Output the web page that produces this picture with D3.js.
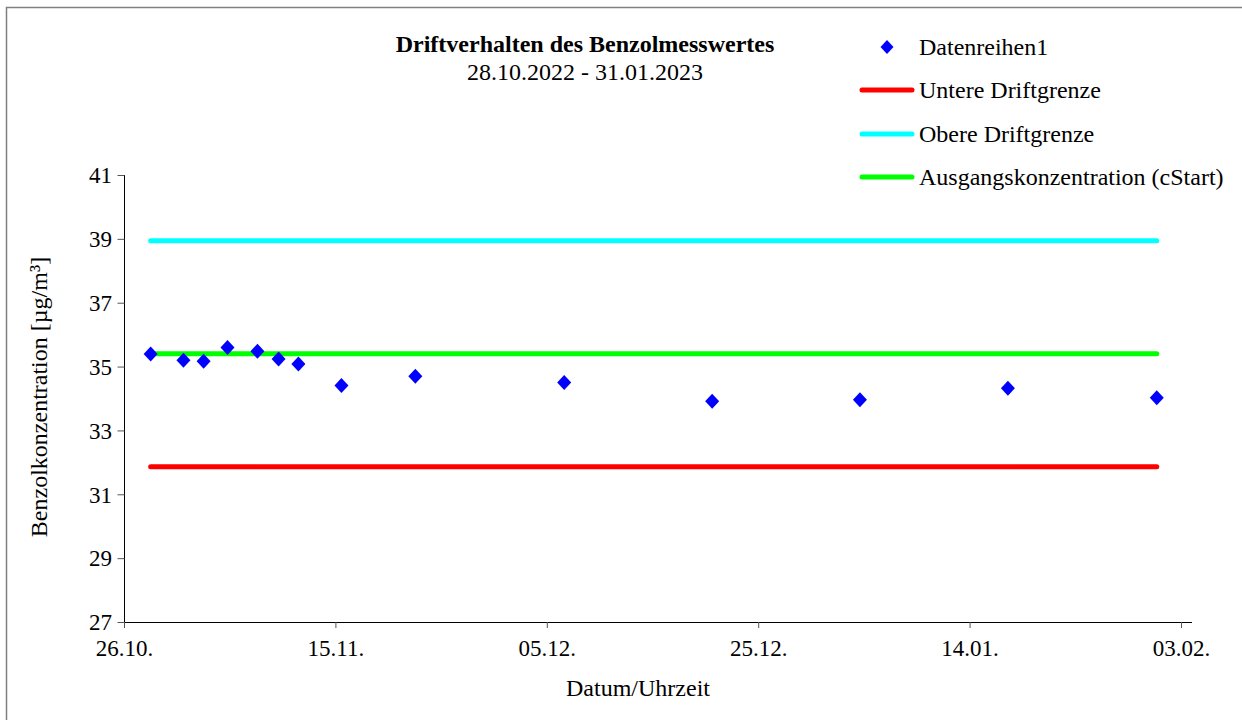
<!DOCTYPE html>
<html>
<head>
<meta charset="utf-8">
<script src="https://cdn.jsdelivr.net/npm/d3@7"></script>
<style>
html,body{margin:0;padding:0;background:#fff;}
svg text{font-family:"Liberation Serif","Times New Roman",serif;fill:#000;}
</style>
</head>
<body>
<svg id="chart" width="1242" height="720"></svg>
<script>
// ---- data ----
const dates = [
  "2022-10-28T12:30","2022-10-31T15:00","2022-11-02T12:45","2022-11-04T19:00",
  "2022-11-07T15:00","2022-11-09T15:00","2022-11-11T12:00","2022-11-15T13:45",
  "2022-11-22T13:30","2022-12-06T15:30","2022-12-20T15:30","2023-01-03T15:00",
  "2023-01-17T15:00","2023-01-31T17:00"
];
const values = [35.39,35.20,35.17,35.60,35.48,35.24,35.08,34.41,34.70,34.50,33.91,33.96,34.32,34.02];
const cStart = 35.40;
const lowerLimit = 31.86;
const upperLimit = 38.94;
const yTicks = [27,29,31,33,35,37,39,41];
const xTickDates = ["2022-10-26","2022-11-15","2022-12-05","2022-12-25","2023-01-14","2023-02-03"];
const xDomain = ["2022-10-26","2023-02-04T01:00"];
const title = "Driftverhalten des Benzolmesswertes";
const subtitle = "28.10.2022 - 31.01.2023";
const xTitle = "Datum/Uhrzeit";
const yTitle = "Benzolkonzentration [µg/m³]";
const seriesNames = ["Datenreihen1","Untere Driftgrenze","Obere Driftgrenze","Ausgangskonzentration (cStart)"];
const lineColors = {lower:"#ff0000", upper:"#00ffff", start:"#00ff00"};

// ---- layout ----
const svg = d3.select("#chart");
const parse = s => new Date(s);
const pL = 124, pR = 1192, pT = 175, pB = 622;
const x = d3.scaleTime().domain(xDomain.map(parse)).range([pL, pR]);
const y = d3.scaleLinear().domain([27,41]).range([pB, pT]);

// frame
svg.append("rect").attr("x",6.5).attr("y",7.5).attr("width",1260).attr("height",740)
  .attr("fill","none").attr("stroke","#808080").attr("stroke-width",1.5);

const fmt = d3.timeFormat("%d.%m.");

// y axis
const yAxis = svg.append("g").attr("transform",`translate(${pL},0)`)
  .call(d3.axisLeft(y).tickValues(yTicks).tickSize(7).tickPadding(5).tickFormat(d3.format("d")));
yAxis.select(".domain").attr("stroke","#000").attr("d",`M0.5,${pT}V${pB}`);
yAxis.selectAll(".tick line").attr("stroke","#555").attr("transform","translate(0.5,0)");
yAxis.selectAll(".tick text").style("font-size","23px").attr("dy","0.34em");

// x axis
const xAxis = svg.append("g").attr("transform",`translate(0,${pB})`)
  .call(d3.axisBottom(x).tickValues(xTickDates.map(parse)).tickSize(6).tickPadding(12).tickFormat(fmt));
xAxis.select(".domain").attr("stroke","#000").attr("d",`M${pL},0.5H${pR}`);
xAxis.selectAll(".tick line").attr("stroke","#555");
xAxis.selectAll(".tick text").style("font-size","23px");

// limit lines
const x0 = x(parse(dates[0])), x1 = x(parse(dates[dates.length-1]));
const lines = [
  {v:upperLimit, c:lineColors.upper},
  {v:lowerLimit, c:lineColors.lower},
  {v:cStart, c:lineColors.start}
];
svg.selectAll("line.lim").data(lines).enter().append("line").attr("class","lim")
  .attr("x1",x0).attr("x2",x1).attr("y1",d=>y(d.v)).attr("y2",d=>y(d.v))
  .attr("stroke",d=>d.c).attr("stroke-width",5).attr("stroke-linecap","round");

// points
const diamond = (w,h) => `M0,${-h}L${w},0L0,${h}L${-w},0Z`;
svg.selectAll("path.pt").data(values).enter().append("path").attr("class","pt")
  .attr("d",diamond(7,7.5))
  .attr("transform",(d,i)=>`translate(${x(parse(dates[i]))},${y(d)})`)
  .attr("fill","#0000ff");

// titles
svg.append("text").attr("x",585).attr("y",52).attr("text-anchor","middle")
  .style("font-size","24px").style("font-weight","bold").text(title);
svg.append("text").attr("x",585).attr("y",80).attr("text-anchor","middle")
  .style("font-size","24px").text(subtitle);
svg.append("text").attr("x",638).attr("y",696).attr("text-anchor","middle")
  .style("font-size","24px").text(xTitle);
svg.append("text").attr("transform","translate(47,397) rotate(-90)").attr("text-anchor","middle")
  .style("font-size","24px").text(yTitle);

// legend
const lg = svg.append("g");
const rowsY = [47,90,134,177];
lg.append("path").attr("d",diamond(6.5,7)).attr("transform",`translate(887,${rowsY[0]})`).attr("fill","#0000ff");
[lineColors.lower, lineColors.upper, lineColors.start].forEach((c,i)=>{
  lg.append("line").attr("x1",862).attr("x2",912).attr("y1",rowsY[i+1]).attr("y2",rowsY[i+1])
    .attr("stroke",c).attr("stroke-width",5).attr("stroke-linecap","round");
});
seriesNames.forEach((n,i)=>{
  lg.append("text").attr("x",919).attr("y",rowsY[i]+8).style("font-size","24px").text(n);
});
</script>
</body>
</html>
